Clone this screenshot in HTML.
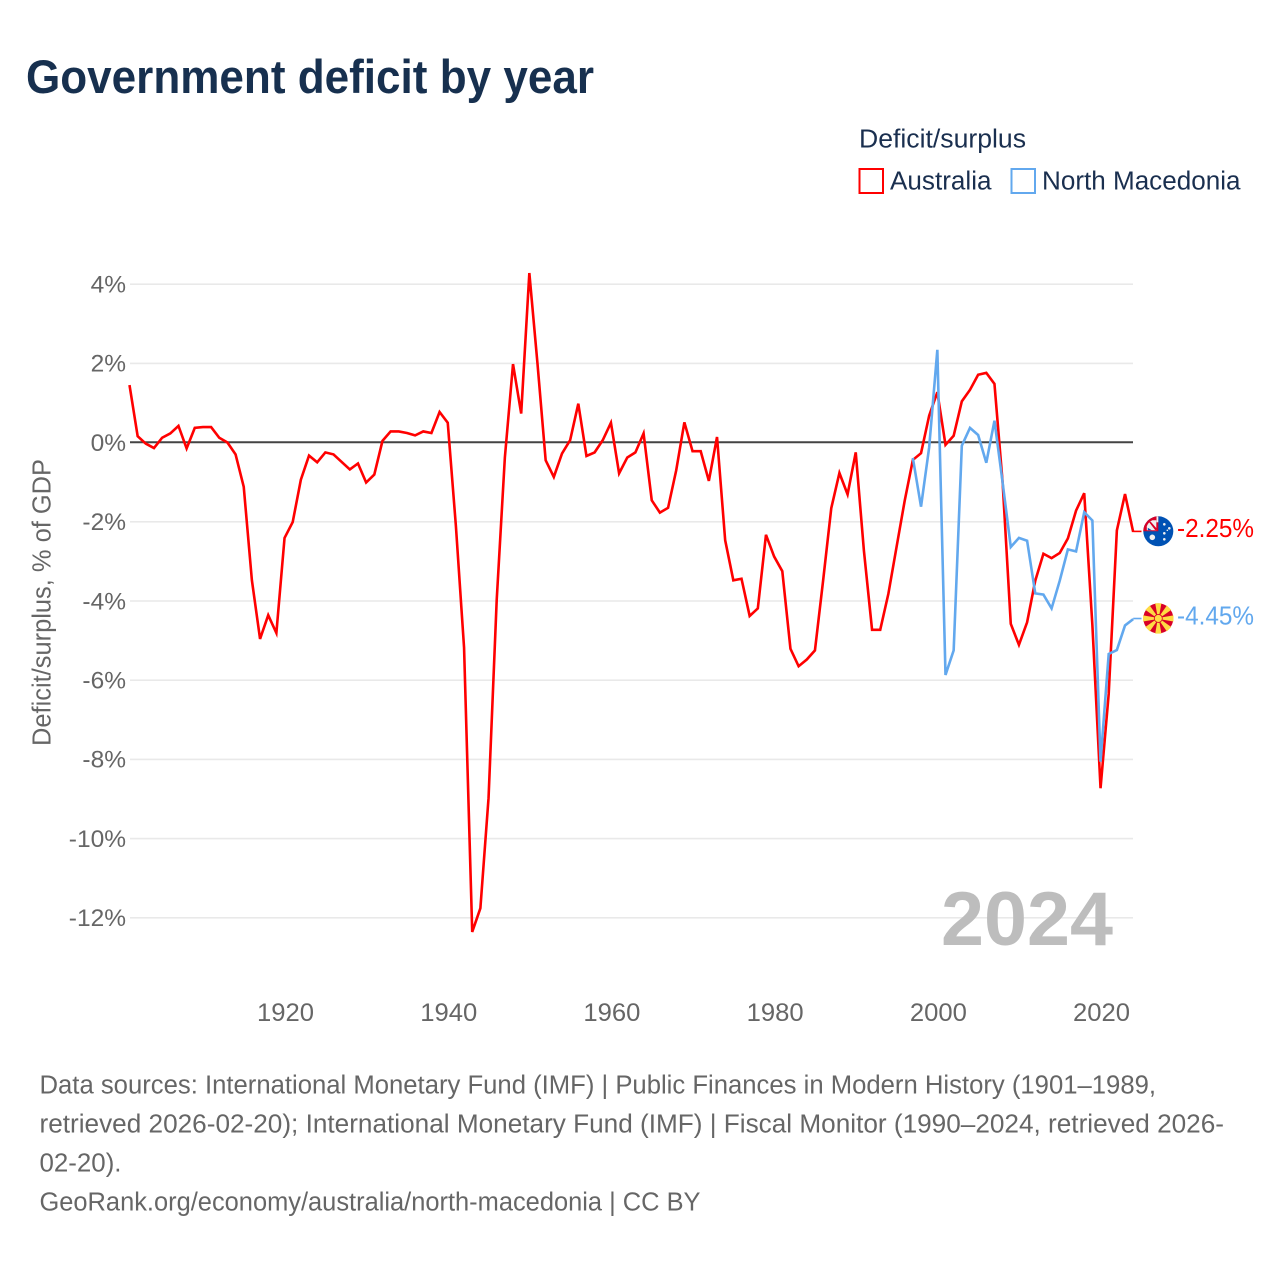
<!DOCTYPE html>
<html lang="en">
<head>
<meta charset="utf-8">
<title>Government deficit by year</title>
<style>
html,body{margin:0;padding:0;background:#fff;width:1280px;height:1280px;overflow:hidden}
svg{display:block}
text{font-family:"Liberation Sans",sans-serif}
</style>
</head>
<body>
<svg id="chart" xmlns="http://www.w3.org/2000/svg" width="1280" height="1280" viewBox="0 0 1280 1280">
  <rect width="1280" height="1280" fill="#fff"/>
  <text x="26" y="93" font-size="47" font-weight="700" fill="#17304f" textLength="568" lengthAdjust="spacingAndGlyphs">Government deficit by year</text>
  <g>
    <text x="859" y="147.5" font-size="25.5" fill="#1a2f4f" textLength="167" lengthAdjust="spacingAndGlyphs">Deficit/surplus</text>
    <rect x="859.5" y="169" width="23.5" height="24" fill="none" stroke="#ff0000" stroke-width="2"/>
    <text x="890" y="189.5" font-size="25.5" fill="#1a2f4f" textLength="101.5" lengthAdjust="spacingAndGlyphs">Australia</text>
    <rect x="1011.5" y="169" width="23.5" height="24" fill="none" stroke="#62a8ee" stroke-width="2"/>
    <text x="1042" y="189.5" font-size="25.5" fill="#1a2f4f" textLength="198.5" lengthAdjust="spacingAndGlyphs">North Macedonia</text>
  </g>
  <g id="grid"></g>
  <g id="yticks"></g>
  <g id="xticks"></g>
  <text transform="translate(50.5,602.5) rotate(-90)" text-anchor="middle" font-size="25.5" fill="#666" textLength="287" lengthAdjust="spacingAndGlyphs">Deficit/surplus, % of GDP</text>
  <text x="941" y="945" font-size="76" font-weight="700" fill="#bdbdbd" textLength="172" lengthAdjust="spacingAndGlyphs">2024</text>
  <g id="series"></g>
  <g id="endmarks"></g>
  <g font-size="25.5" fill="#666">
    <text x="39.5" y="1093.5" textLength="1116.5" lengthAdjust="spacingAndGlyphs">Data sources: International Monetary Fund (IMF) | Public Finances in Modern History (1901–1989,</text>
    <text x="39.5" y="1132.5" textLength="1184.5" lengthAdjust="spacingAndGlyphs">retrieved 2026-02-20); International Monetary Fund (IMF) | Fiscal Monitor (1990–2024, retrieved 2026-</text>
    <text x="39.5" y="1171.5" textLength="82" lengthAdjust="spacingAndGlyphs">02-20).</text>
    <text x="39.5" y="1210.5" textLength="661" lengthAdjust="spacingAndGlyphs">GeoRank.org/economy/australia/north-macedonia | CC BY</text>
  </g>
</svg>
<script>
const startYear = 1901;
const australiaValues = [1.46,0.17,-0.02,-0.13,0.13,0.24,0.43,-0.14,0.38,0.40,0.40,0.13,0.01,-0.29,-1.11,-3.47,-4.95,-4.35,-4.80,-2.40,-2.00,-0.93,-0.32,-0.49,-0.24,-0.29,-0.48,-0.67,-0.52,-1.00,-0.80,0.05,0.29,0.29,0.25,0.19,0.29,0.25,0.78,0.51,-2.10,-5.17,-12.35,-11.75,-8.97,-3.97,-0.37,1.99,0.74,4.29,2.00,-0.44,-0.86,-0.27,0.07,0.99,-0.33,-0.24,0.07,0.51,-0.77,-0.37,-0.24,0.24,-1.45,-1.76,-1.64,-0.69,0.52,-0.21,-0.21,-0.96,0.15,-2.46,-3.47,-3.43,-4.37,-4.18,-2.32,-2.87,-3.24,-5.20,-5.64,-5.47,-5.24,-3.48,-1.65,-0.76,-1.30,-0.24,-2.72,-4.72,-4.72,-3.81,-2.63,-1.46,-0.43,-0.26,0.69,1.28,-0.05,0.18,1.05,1.34,1.72,1.77,1.49,-1.00,-4.57,-5.10,-4.53,-3.48,-2.80,-2.91,-2.78,-2.41,-1.71,-1.27,-4.60,-8.72,-6.34,-2.21,-1.29,-2.25];
const macedoniaStartYear = 1997;
const macedoniaValues = [-0.38,-1.61,-0.11,2.35,-5.86,-5.24,-0.07,0.38,0.20,-0.50,0.56,-1.00,-2.63,-2.40,-2.47,-3.80,-3.83,-4.18,-3.48,-2.69,-2.74,-1.75,-1.96,-8.05,-5.33,-5.23,-4.61,-4.45];
const yTickValues = [4,2,0,-2,-4,-6,-8,-10,-12];
const xTickYears = [1920,1940,1960,1980,2000,2020];
const endLabels = ["-2.25%","-4.45%"];

const NS = "http://www.w3.org/2000/svg";
function xScale(year){ return 129.5 + (year - 1901) * 8.16; }
function yScale(v){ return 442.9 - v * 39.6; }
function make(tag, attrs, parent){
  const el = document.createElementNS(NS, tag);
  for (const k in attrs) el.setAttribute(k, attrs[k]);
  parent.appendChild(el);
  return el;
}
const gridG = document.getElementById('grid');
const yG = document.getElementById('yticks');
const xG = document.getElementById('xticks');
const seriesG = document.getElementById('series');
const endG = document.getElementById('endmarks');

yTickValues.filter(v => v !== 0).forEach(v => {
  const ln = make('line', {x1:130, x2:1133, y1:yScale(v)-0.3, y2:yScale(v)-0.3, stroke:'#e9e9e9', 'stroke-width':1.6}, gridG);
  
  
});
yTickValues.forEach(v => {
  const t = make('text', {x:126, y:yScale(v)+8, 'text-anchor':'end', 'font-size':24.5, fill:'#666'}, yG);
  t.textContent = v + '%';
  
  
});
xTickYears.forEach(y => {
  const t = make('text', {x:xScale(y)+1, y:1021, 'text-anchor':'middle', 'font-size':25, fill:'#666', textLength:57, lengthAdjust:'spacingAndGlyphs'}, xG);
  t.textContent = y;
  
  
});
const zero = make('line', {x1:130, x2:1133, y1:yScale(0)-0.6, y2:yScale(0)-0.6, stroke:'#444', 'stroke-width':2}, gridG);



function pathFor(first, values){
  return values.map((v,i) => xScale(first+i).toFixed(2) + ',' + yScale(v).toFixed(2)).join(' ');
}
const auLine = make('polyline', {points:pathFor(startYear, australiaValues), fill:'none', stroke:'#ff0000', 'stroke-width':2.6, 'stroke-linejoin':'miter'}, seriesG);


const mkLine = make('polyline', {points:pathFor(macedoniaStartYear, macedoniaValues), fill:'none', stroke:'#62a8ee', 'stroke-width':2.6, 'stroke-linejoin':'miter'}, seriesG);



function endMark(values, color, label, drawFlag, flagName, labelName, connName){
  const v = values[values.length-1];
  const x = xScale(startYear + australiaValues.length - 1);
  const y = yScale(v);
  const c = make('line', {x1:x, x2:1141.5, y1:y-0.6, y2:y-0.6, stroke:color, 'stroke-width':1.6}, endG);
  
  
  const g = make('g', {transform:'translate(1158.3,'+(y-0.7)+')'}, endG);
  
  
  drawFlag(g);
  const t = make('text', {x:1177, y:y+5.2, 'font-size':25.5, fill:color, textLength:77, lengthAdjust:'spacingAndGlyphs'}, endG);
  t.textContent = label;
  
  
}
function australiaFlag(g){
  make('circle', {r:15, fill:'#0052b4'}, g);
  make('path', {d:'M-15,0 A15,15 0 0 1 0,-15 L0,0 Z', fill:'#d80027'}, g);
  make('path', {d:'M-11.5,-1 L-11.5,-5 Q-10,-9 -6,-11 L-2,-11 L-2,-1 Z', fill:'#f0f0f0'}, g);
  make('path', {d:'M-1.8,-15 L0,-15 L0,-9 L-1.8,-9 Z', fill:'#f0f0f0'}, g);
  make('path', {d:'M-9.5,-9.5 L-7.5,-9.5 L-1,-2 L-3,-1 Z', fill:'#d80027'}, g);
  make('path', {d:'M-10.5,-3.5 L-6.5,-1 L-10.5,-1 Z', fill:'#0052b4'}, g);
  [[-6,6,2.8],[6,-7,1.3],[11,-3,1.3],[6,2,1.3],[6,8,1.3],[9,-1,0.8]].forEach(s => {
    make('circle', {cx:s[0], cy:s[1], r:s[2], fill:'#f0f0f0'}, g);
  });
}
function macedoniaFlag(g){
  make('circle', {r:15, fill:'#d80027'}, g);
  for (let a = 0; a < 8; a++){
    make('path', {d:'M-3.1,-15.2 L3.1,-15.2 L0.8,-2 L-0.8,-2 Z', fill:'#ffda44', transform:'rotate('+(a*45)+')'}, g);
  }
  make('circle', {r:4.4, fill:'#d80027'}, g);
  make('circle', {r:3.6, fill:'#ffda44'}, g);
}
endMark(australiaValues, '#ff0000', endLabels[0], australiaFlag, 'flag-australia', 'end-label-australia', 'connector-australia');
endMark(macedoniaValues, '#62a8ee', endLabels[1], macedoniaFlag, 'flag-north-macedonia', 'end-label-north-macedonia', 'connector-north-macedonia');
</script>
</body>
</html>
